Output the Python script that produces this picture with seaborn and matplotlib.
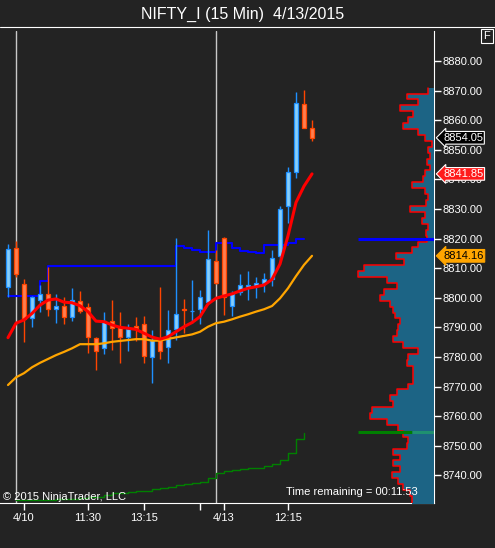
import numpy as np
import pandas as pd
import seaborn as sns
import matplotlib.pyplot as plt
from matplotlib.lines import Line2D
from matplotlib.transforms import blended_transform_factory

# NIFTY_I 15 min bars, bar 0 = last bar of 4/9, bar 1 = 4/10 open, bar 26 = 4/13 open
opens = [8803.7, 8816.7, 8804.5, 8793.0, 8799.2, 8801.2, 8796.1, 8797.2, 8793.6, 8798.9,
         8796.8, 8786.3, 8783.1, 8792.1, 8790.1, 8786.8, 8790.3, 8791.0, 8780.1, 8786.3,
         8783.2, 8789.3, 8796.1, 8795.4, 8796.1, 8798.5, 8812.4, 8820.1, 8797.3, 8801.8,
         8803.7, 8804.1, 8804.9, 8806.2, 8814.1, 8831.1, 8842.4, 8865.5, 8857.3]
highs = [8818.2, 8819.2, 8806.2, 8800.6, 8804.3, 8810.5, 8801.3, 8800.1, 8803.2, 8802.4,
         8798.3, 8786.8, 8795.2, 8799.2, 8795.3, 8791.1, 8793.4, 8793.8, 8789.1, 8803.5,
         8795.8, 8820.1, 8799.5, 8806.0, 8802.6, 8822.9, 8816.1, 8820.5, 8802.4, 8807.9,
         8809.0, 8807.1, 8808.5, 8816.1, 8831.0, 8844.1, 8869.6, 8870.2, 8860.1]
lows = [8800.1, 8806.9, 8785.1, 8790.2, 8795.3, 8793.8, 8791.4, 8791.1, 8792.1, 8794.7,
        8781.4, 8775.6, 8781.0, 8782.3, 8778.0, 8782.0, 8785.5, 8777.8, 8771.1, 8779.2,
        8778.0, 8785.7, 8788.0, 8791.6, 8791.1, 8797.9, 8804.6, 8794.2, 8793.8, 8800.9,
        8799.2, 8800.0, 8802.0, 8804.1, 8812.2, 8825.2, 8840.4, 8857.2, 8853.1]
closes = [8816.4, 8807.9, 8792.7, 8800.1, 8801.2, 8796.1, 8797.1, 8793.6, 8799.1, 8795.4,
          8786.8, 8782.1, 8792.1, 8789.7, 8786.8, 8789.5, 8789.9, 8780.2, 8785.6, 8782.1,
          8789.1, 8794.4, 8795.9, 8795.6, 8800.1, 8813.0, 8805.1, 8800.1, 8801.3, 8804.2,
          8804.2, 8804.9, 8806.2, 8813.3, 8829.9, 8842.4, 8865.7, 8857.3, 8854.05]

# moving averages
ema_fast = [8786.5, 8791.4, 8792.5, 8794.7, 8797.5, 8799.2, 8799.6, 8798.5, 8798.3, 8797.3,
            8795.3, 8792.1, 8791.9, 8790.8, 8790.0, 8789.7, 8789.3, 8788.0, 8786.7, 8786.0,
            8786.8, 8788.5, 8790.2, 8791.6, 8793.6, 8797.9, 8799.8, 8800.6, 8801.3, 8802.3,
            8803.2, 8803.7, 8804.3, 8806.2, 8811.4, 8820.9, 8832.2, 8837.7, 8841.85]
ema_slow = [8770.5, 8773.1, 8774.5, 8776.5, 8778.0, 8779.3, 8780.6, 8781.7, 8782.9, 8784.3,
            8784.3, 8784.3, 8784.6, 8785.1, 8785.4, 8785.7, 8786.0, 8786.0, 8785.5, 8785.5,
            8786.1, 8786.6, 8787.1, 8787.6, 8788.5, 8790.2, 8791.4, 8791.9, 8792.7, 8793.6,
            8794.4, 8795.3, 8796.1, 8797.2, 8799.8, 8803.2, 8807.3, 8811.1, 8814.16]

# blue step level, bars 0..37
level_line = [8800.5, 8800.5, 8800.5, 8800.5, 8805.5, 8810.6, 8810.6, 8810.6, 8810.6, 8810.6,
              8810.6, 8810.6, 8810.6, 8810.6, 8810.6, 8810.6, 8810.6, 8810.6, 8810.6, 8810.6,
              8810.6, 8817.4, 8816.7, 8816.0, 8815.5, 8815.5, 8818.4, 8818.4, 8816.7, 8815.7,
              8815.3, 8815.1, 8817.7, 8817.7, 8817.7, 8818.6, 8819.7, 8819.7]

# green cumulative line, bars 1..37
cum_vol = [0.57, 0.57, 0.57, 0.57, 0.57, 0.85, 0.85, 0.85, 1.06, 1.17,
           1.27, 1.80, 2.06, 2.06, 2.23, 2.44, 2.61, 2.91, 3.12, 3.40,
           3.76, 4.03, 4.25, 4.52, 5.24, 6.31, 6.79, 7.01, 7.22, 7.37,
           7.49, 7.79, 8.22, 9.07, 10.68, 13.52, 14.80]

# volume profile (price level, width)
prof_price = np.arange(8870, 8728, -2)
prof_vol = [6, 27, 16, 34, 21, 26, 31, 16, 9, 2,
            6, 4, 7, 4, 9, 11, 22, 9, 6, 8,
            24, 9, 12, 6, 8, 7, 16, 22, 38, 30,
            70, 76, 47, 37, 50, 54, 44, 41, 39, 34,
            36, 37, 41, 31, 16, 26, 27, 21, 21, 21,
            26, 37, 44, 41, 62, 64, 47, 36, 31, 26,
            27, 41, 34, 41, 34, 42, 36, 31, 24, 22, 22]
poc_price = 8820
va_low_price = 8754.5

tick_pos = [2, 10, 17, 24, 27, 35]
tick_lab = ['4/10', '11:30', '13:15', '', '4/13', '12:15']
session_starts = [1, 26]

bg = '#232323'
sns.set_style("dark", {"axes.facecolor": bg, "figure.facecolor": bg,
                       "axes.edgecolor": "white", "text.color": "white",
                       "xtick.color": "white", "ytick.color": "white"})
plt.rcParams['font.family'] = ['Liberation Sans', 'DejaVu Sans']

W, H = 495, 548
fig = plt.figure(figsize=(W / 100, H / 100), dpi=100)
ax = fig.add_axes([0, 1 - 503 / H, 434 / W, 472 / H])

df = pd.DataFrame(dict(x=np.arange(len(opens)), o=opens, h=highs, l=lows, c=closes))
up = df.c >= df.o
edge = np.where(up, '#1e90ff', '#ff4500')
fill = np.where(up, '#87cefa', '#ff7f50')

for s in session_starts:
    ax.axvline(s, color='#c8c8c8', lw=1, zorder=1)

ax.vlines(df.x, df.l, df.h, colors=edge, lw=1, zorder=3)
ax.bar(df.x, (df.c - df.o).abs().clip(lower=0.05), bottom=df[['o', 'c']].min(axis=1),
       width=0.62, color=fill, edgecolor=edge, lw=0.9, zorder=4)

sns.lineplot(x=np.arange(len(level_line)), y=level_line, ax=ax, color='#0000ff', lw=1.5,
             drawstyle='steps-post', zorder=2)
sns.lineplot(x=df.x, y=ema_slow, ax=ax, color='#ffa500', lw=1.6, zorder=5)
sns.lineplot(x=df.x, y=ema_fast, ax=ax, color='#ff0000', lw=2.2, zorder=6)

ax.set_xlim(-1, 53.25)
ax.set_ylim(8730.63, 8890.14)

# cumulative line on its own scale
axg = ax.twinx()
sns.lineplot(x=np.arange(1, len(cum_vol) + 1), y=cum_vol, ax=axg, color='#008000', lw=1,
             drawstyle='steps-post')
axg.set_ylim(0, 100)
axg.set_yticks([])
axg.set_ylabel('')

# volume profile from right edge
axp = ax.twiny()
ys = np.column_stack([prof_price + 1, prof_price - 1]).ravel()
xs = np.repeat(prof_vol, 2)
axp.fill_betweenx(ys, 0, xs, color='#1c6485', lw=0)
axp.plot(xs, ys, color='#ff0000', lw=1.1)
axp.hlines(poc_price, 0, max(prof_vol), color='#0000ff', lw=2.2)
axp.hlines(va_low_price, 22, max(prof_vol), color='#007f00', lw=2.2)
axp.hlines(va_low_price, 0, 22, color='#1f9070', lw=2.2)
axp.set_xlim(434, 0)
axp.set_xticks([])

for a in (ax, axg, axp):
    for side in ('top', 'left'):
        a.spines[side].set_visible(False)
for a in (axg, axp):
    a.spines['right'].set_visible(False)
    a.spines['bottom'].set_visible(False)
ax.spines['right'].set_color('white')
ax.spines['bottom'].set_color('white')

ax.yaxis.tick_right()
ax.set_yticks(np.arange(8740, 8881, 10))
ax.yaxis.set_major_formatter('{x:.2f}')
ax.set_xticks(tick_pos)
ax.set_xticklabels(tick_lab)
ax.tick_params(axis='x', colors='white', length=5, width=1, pad=2, labelsize=8)
ax.tick_params(axis='y', colors='white', length=5, width=1, pad=1, labelsize=8)
ax.set_xlabel('')
ax.set_ylabel('')

# last value tags
trans = blended_transform_factory(ax.transAxes, ax.transData)
tags = [(closes[-1], 'black', 'white', 'white'),
        (ema_fast[-1], '#ff1a1a', 'white', 'white'),
        (ema_slow[-1], '#ffa500', 'black', '#ffa500')]
for val, fc, tc, ec in tags:
    ax.text(443 / 434, val, f'{val:.2f}', transform=trans, ha='left', va='center',
            fontsize=8, color=tc, zorder=10,
            bbox=dict(boxstyle='larrow,pad=0.12', fc=fc, ec=ec, lw=0.8))

fig.text(243 / W, 1 - 14 / H, 'NIFTY_I (15 Min)  4/13/2015', ha='center', va='center',
         fontsize=11.5, color='white')
fig.add_artist(Line2D([0, 1], [1 - 27 / H] * 2, color='white', lw=0.8,
                      transform=fig.transFigure))
fig.text(487 / W, 1 - 36 / H, 'F', ha='center', va='center', fontsize=8, color='white',
         bbox=dict(boxstyle='square,pad=0.2', fc=bg, ec='white', lw=0.8))
fig.text(3 / W, 1 - 500 / H, '© 2015 NinjaTrader, LLC', ha='left', va='baseline',
         fontsize=8, color='white')
fig.text(418 / W, 1 - 495 / H, 'Time remaining = 00:11:53', ha='right', va='baseline',
         fontsize=8, color='white')

fig.savefig('out.png', dpi=100, facecolor=bg)
